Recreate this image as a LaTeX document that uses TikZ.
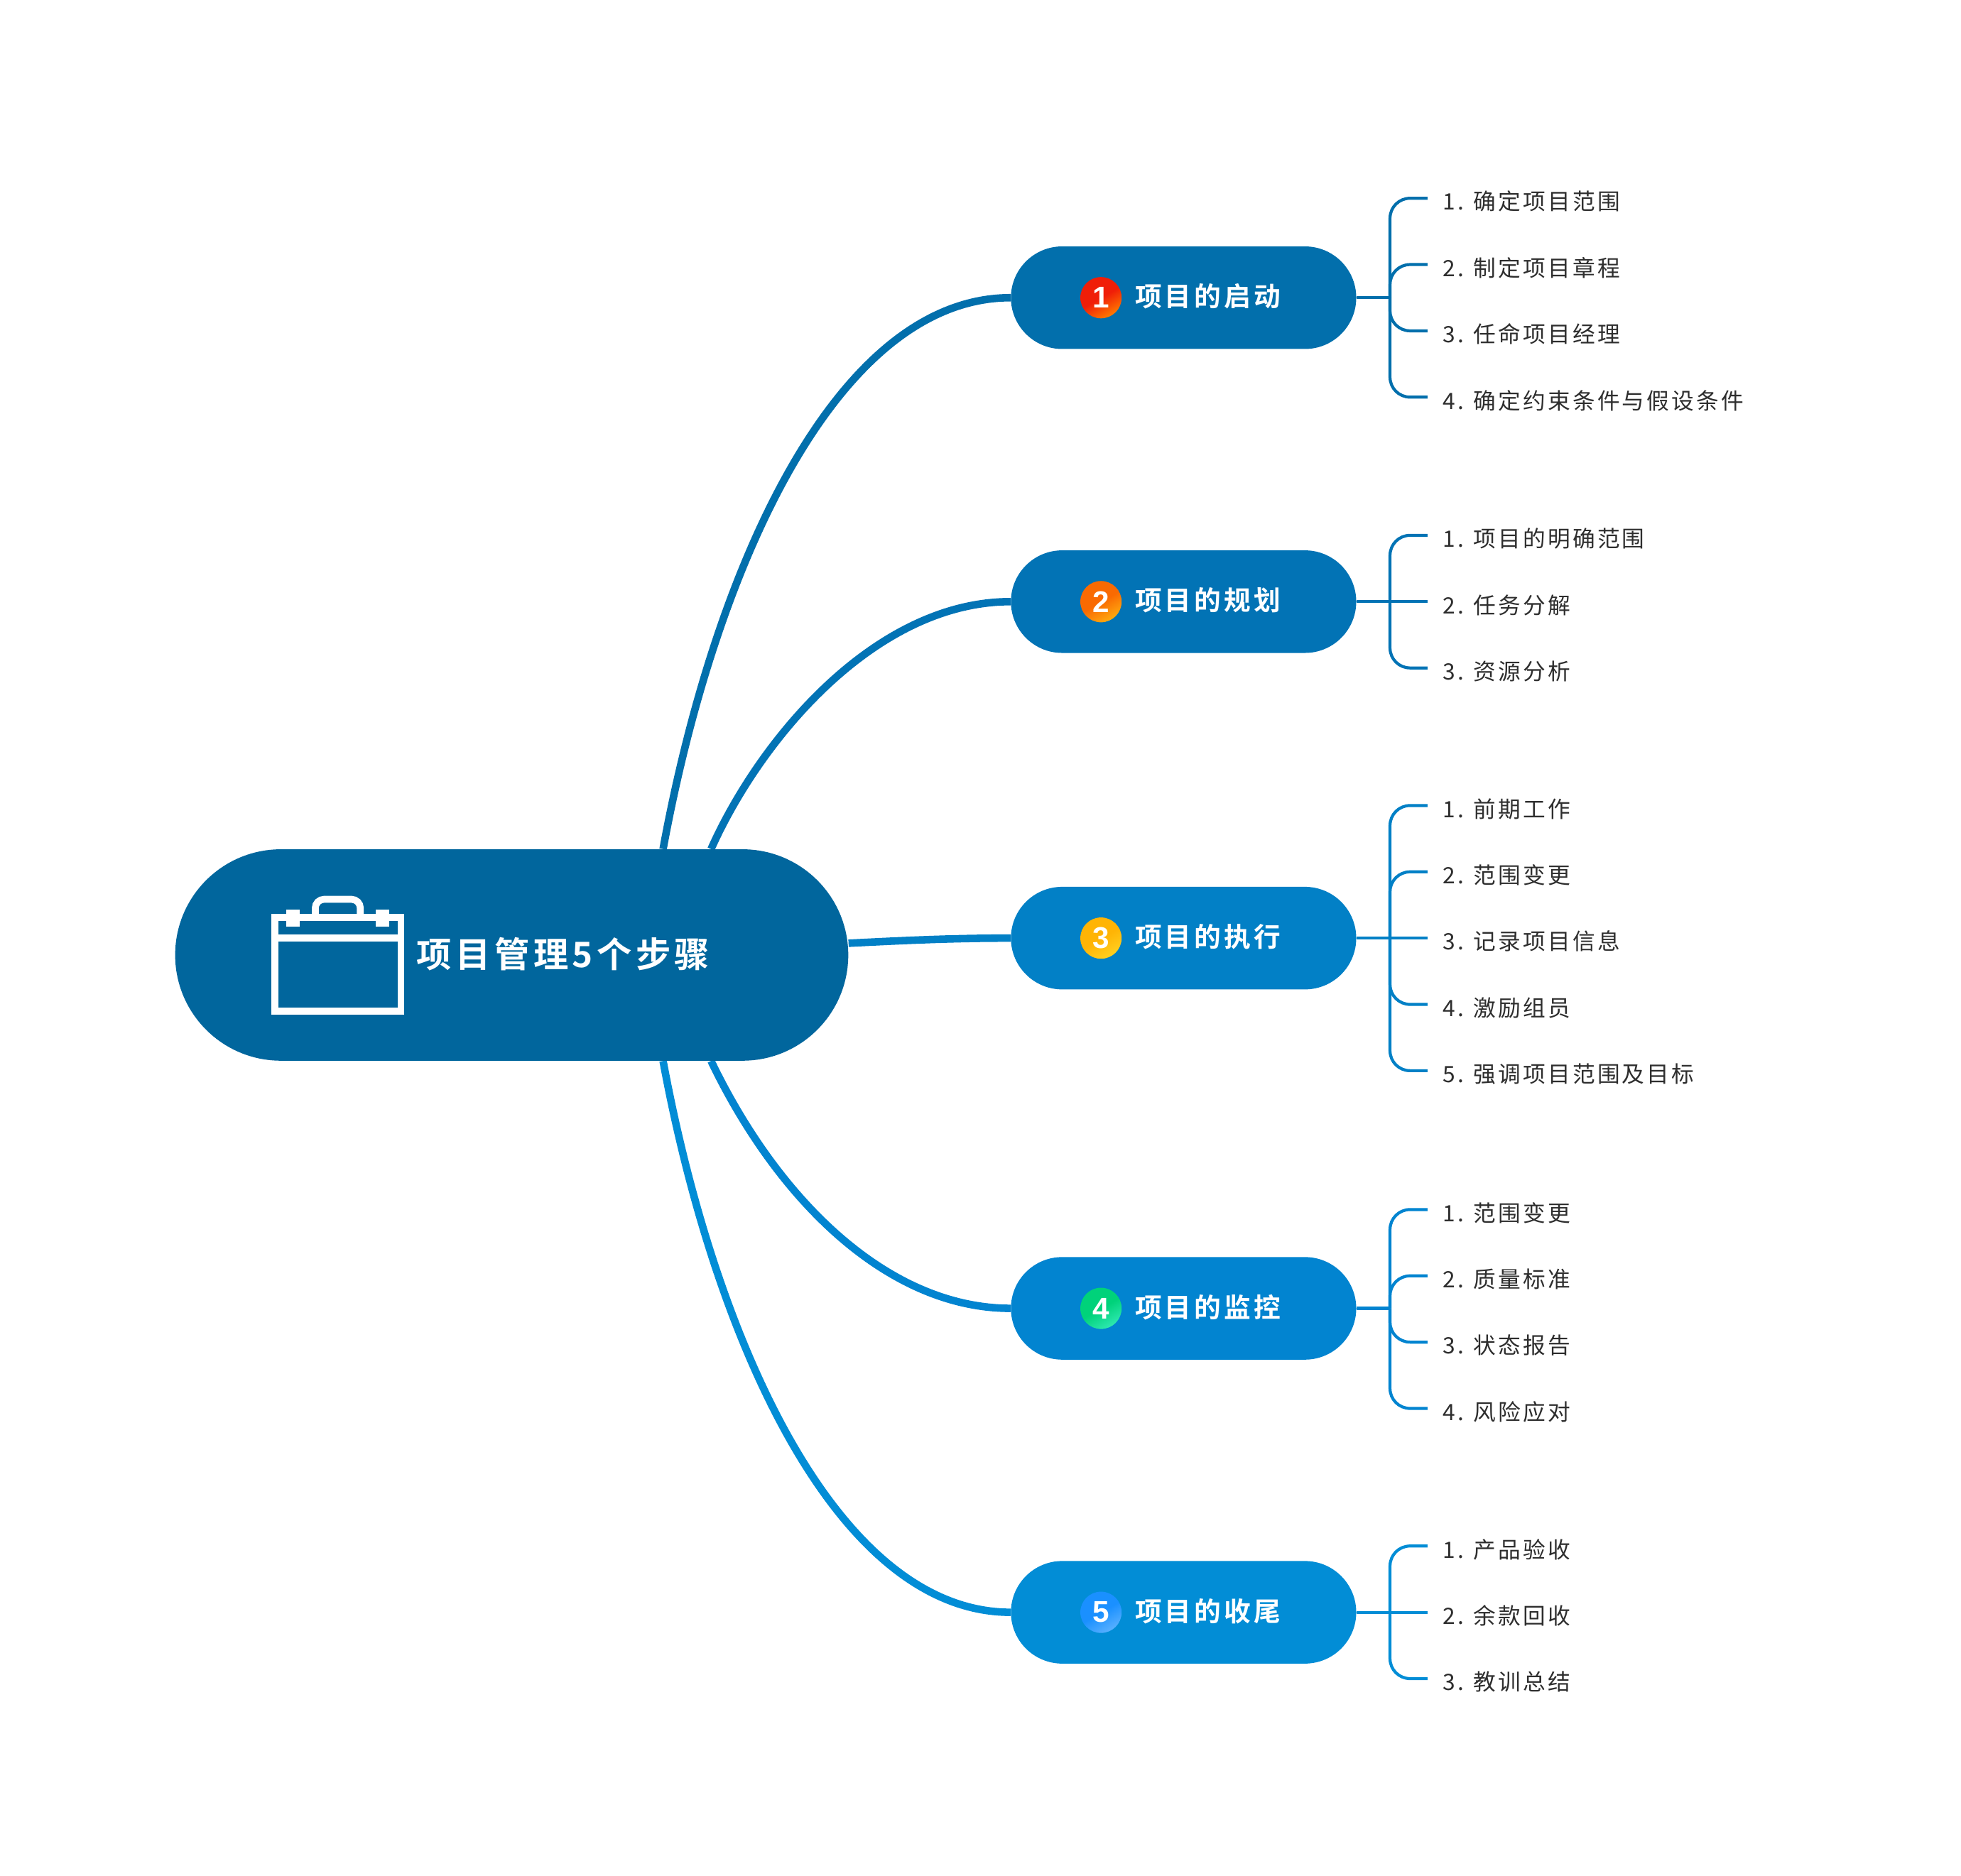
\documentclass[tikz,border=0pt]{standalone}
\usepackage{fontspec}
\usetikzlibrary{backgrounds}
\newfontfamily\cjk[LetterSpace=10]{Noto Sans CJK SC}
\newfontfamily\cjkbold[LetterSpace=11]{Noto Sans CJK SC Bold}
\newfontfamily\digitfont{Liberation Sans Bold}
\definecolor{rootblue}{HTML}{01669D}
\definecolor{blueA}{HTML}{026FAC}
\definecolor{blueB}{HTML}{0273B5}
\definecolor{blueC}{HTML}{0280C6}
\definecolor{blueD}{HTML}{0284D0}
\definecolor{blueE}{HTML}{028DD6}
\definecolor{dotAtop}{HTML}{F01E08}
\definecolor{dotAend}{HTML}{FF7A00}
\definecolor{dotBtop}{HTML}{F96A02}
\definecolor{dotBend}{HTML}{FFAA10}
\definecolor{dotCtop}{HTML}{FFB405}
\definecolor{dotCend}{HTML}{FFD020}
\definecolor{dotDtop}{HTML}{00D27A}
\definecolor{dotDend}{HTML}{2EE8B0}
\definecolor{dotEtop}{HTML}{1A90FF}
\definecolor{dotEend}{HTML}{58B0FF}
\tikzset{
    pill/.style={minimum width=276pt, minimum height=82pt, rounded corners=41pt, inner sep=0pt},
    pilltext/.style={anchor=west, inner sep=0pt, text=white, font=\cjkbold\fontsize{21.4}{24}\selectfont},
    numdot/.style 2 args={circle, minimum size=33pt, inner sep=0pt, text=white, font=\digitfont\fontsize{24}{26}\selectfont, top color=#1, bottom color=#2, middle color=#1, shading angle=30},
    leaf/.style={anchor=west, inner xsep=12pt, inner ysep=0pt, text height=19pt, text depth=0pt, text=black!82, font=\cjk\fontsize{18}{20}\selectfont},
    branch/.style={line width=6pt},
    twig/.style={line width=2.4pt, rounded corners=16pt}
}
\begin{document}
\begin{tikzpicture}[
    yscale=-1,
    x=1pt,
    y=1pt
]
    \useasboundingbox (0,0) rectangle (1567.4,1499.3);

    % centre
    \node[minimum width=538pt, minimum height=169pt, rounded corners=84.5pt, fill=rootblue] (root) at (409,763.5) {};
    \node[anchor=west, inner sep=0pt, text=white, font=\cjkbold\fontsize{28}{32}\selectfont] (title) at (333,763) {项目管理5个步骤};

    % bag icon
    \draw[white, line width=5.5pt] (219.5,733.5) rectangle (320.5,808.5);
    \draw[white, line width=5.5pt] (219.5,750) -- (320.5,750);
    \fill[white] (229,727) rectangle (239.5,741);
    \fill[white] (300.5,727) rectangle (311,741);
    \draw[white, line width=5.5pt, rounded corners=7pt] (252,733) -- (252,719) -- (288,719) -- (288,733);

    % branch pills
    \node[pill, fill=blueA] (b1) at (946,238) {};
    \node[pill, fill=blueB] (b2) at (946,481) {};
    \node[pill, fill=blueC] (b3) at (946,750) {};
    \node[pill, fill=blueD] (b4) at (946,1046) {};
    \node[pill, fill=blueE] (b5) at (946,1289) {};

    \node[numdot={dotAtop}{dotAend}] (n1) at (880,238) {1};
    \node[numdot={dotBtop}{dotBend}] (n2) at (880,481) {2};
    \node[numdot={dotCtop}{dotCend}] (n3) at (880,750) {3};
    \node[numdot={dotDtop}{dotDend}] (n4) at (880,1046) {4};
    \node[numdot={dotEtop}{dotEend}] (n5) at (880,1289) {5};

    \node[pilltext] (t1) at (907,237) {项目的启动};
    \node[pilltext] (t2) at (907,480) {项目的规划};
    \node[pilltext] (t3) at (907,749) {项目的执行};
    \node[pilltext] (t4) at (907,1045) {项目的监控};
    \node[pilltext] (t5) at (907,1288) {项目的收尾};

    % main curves
    \begin{scope}[on background layer]
        \draw[branch, blueA] (root.35) .. controls (572,450) and (670,238) .. (b1.west);
        \draw[branch, blueB] (root.28) .. controls (608,590) and (700,481) .. (b2.west);
        \draw[branch, blueC] (root.2.1) .. controls (720,752) and (760,750) .. (b3.west);
        \draw[branch, blueD] (root.-28) .. controls (622,960) and (710,1046) .. (b4.west);
        \draw[branch, blueE] (root.-35) .. controls (572,1075) and (670,1289) .. (b5.west);
    \end{scope}

    % trunks
    \coordinate (k1) at (1111,238);
    \coordinate (k2) at (1111,481);
    \coordinate (k3) at (1111,750);
    \coordinate (k4) at (1111,1046);
    \coordinate (k5) at (1111,1289);

    % leaves
    \node[leaf] (l11) at (1141,158.5) {1. 确定项目范围};
    \node[leaf] (l12) at (1141,211.5) {2. 制定项目章程};
    \node[leaf] (l13) at (1141,264.5) {3. 任命项目经理};
    \node[leaf] (l14) at (1141,317.5) {4. 确定约束条件与假设条件};

    \node[leaf] (l21) at (1141,428) {1. 项目的明确范围};
    \node[leaf] (l22) at (1141,481) {2. 任务分解};
    \node[leaf] (l23) at (1141,534) {3. 资源分析};

    \node[leaf] (l31) at (1141,644) {1. 前期工作};
    \node[leaf] (l32) at (1141,697) {2. 范围变更};
    \node[leaf] (l33) at (1141,750) {3. 记录项目信息};
    \node[leaf] (l34) at (1141,803) {4. 激励组员};
    \node[leaf] (l35) at (1141,856) {5. 强调项目范围及目标};

    \node[leaf] (l41) at (1141,967) {1. 范围变更};
    \node[leaf] (l42) at (1141,1020) {2. 质量标准};
    \node[leaf] (l43) at (1141,1073) {3. 状态报告};
    \node[leaf] (l44) at (1141,1126) {4. 风险应对};

    \node[leaf] (l51) at (1141,1236) {1. 产品验收};
    \node[leaf] (l52) at (1141,1289) {2. 余款回收};
    \node[leaf] (l53) at (1141,1342) {3. 教训总结};

    % twigs
    \draw[twig, blueA] (b1.east) -- (k1);
    \draw[twig, blueA] (k1) |- (l11.west);
    \draw[twig, blueA] (k1) |- (l12.west);
    \draw[twig, blueA] (k1) |- (l13.west);
    \draw[twig, blueA] (k1) |- (l14.west);

    \draw[twig, blueB] (b2.east) -- (k2);
    \draw[twig, blueB] (k2) |- (l21.west);
    \draw[twig, blueB] (k2) -- (l22.west);
    \draw[twig, blueB] (k2) |- (l23.west);

    \draw[twig, blueC] (b3.east) -- (k3);
    \draw[twig, blueC] (k3) |- (l31.west);
    \draw[twig, blueC] (k3) |- (l32.west);
    \draw[twig, blueC] (k3) -- (l33.west);
    \draw[twig, blueC] (k3) |- (l34.west);
    \draw[twig, blueC] (k3) |- (l35.west);

    \draw[twig, blueD] (b4.east) -- (k4);
    \draw[twig, blueD] (k4) |- (l41.west);
    \draw[twig, blueD] (k4) |- (l42.west);
    \draw[twig, blueD] (k4) |- (l43.west);
    \draw[twig, blueD] (k4) |- (l44.west);

    \draw[twig, blueE] (b5.east) -- (k5);
    \draw[twig, blueE] (k5) |- (l51.west);
    \draw[twig, blueE] (k5) -- (l52.west);
    \draw[twig, blueE] (k5) |- (l53.west);
\end{tikzpicture}
\end{document}
